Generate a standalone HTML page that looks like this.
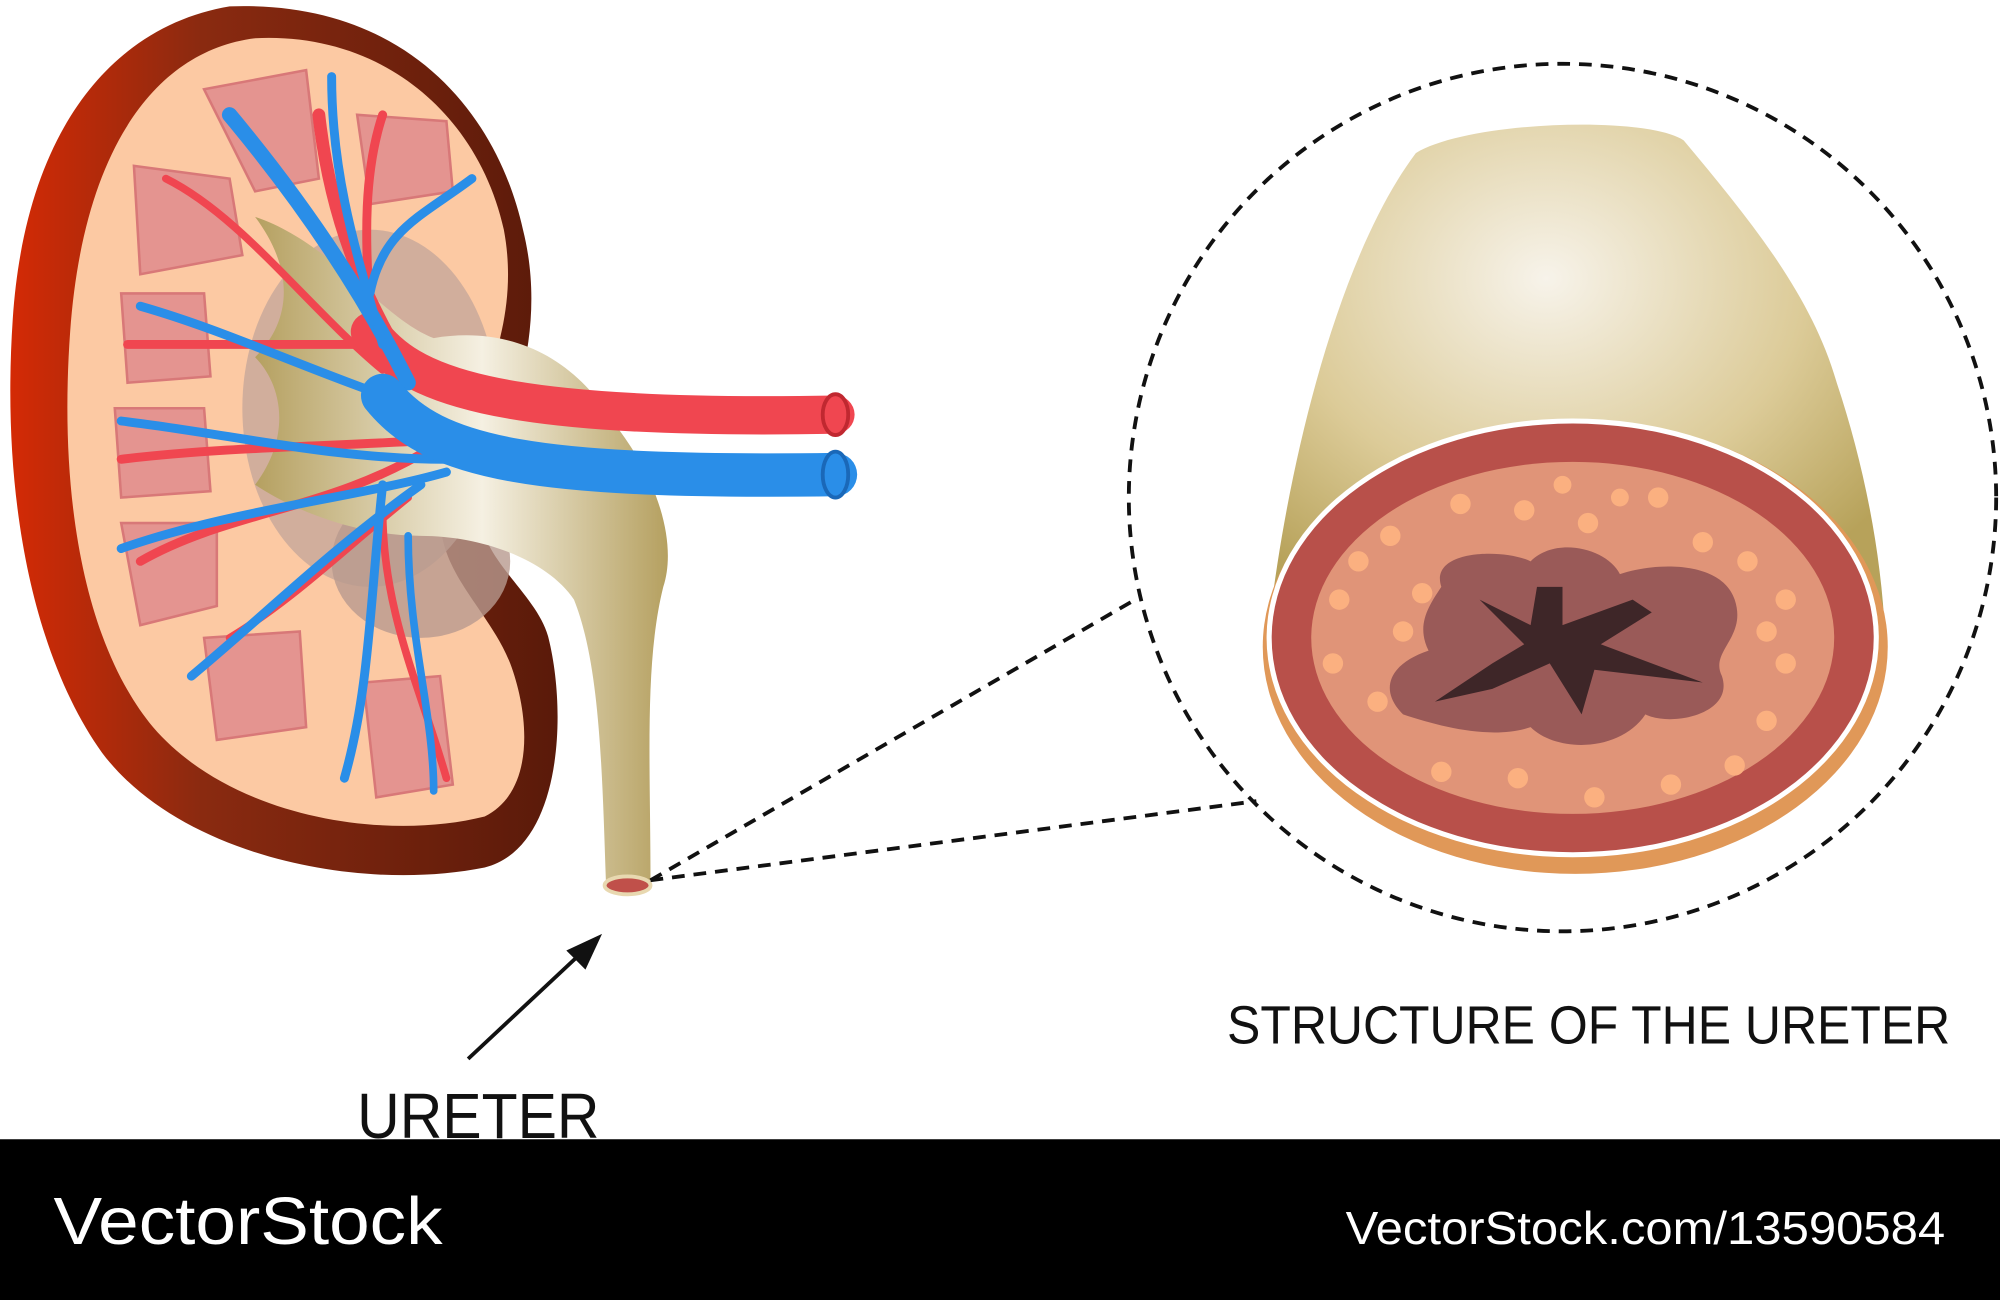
<!DOCTYPE html>
<html><head><meta charset="utf-8"><style>
html,body{margin:0;padding:0;background:#fff;}
svg{display:block;}
text{font-family:"Liberation Sans","DejaVu Sans",sans-serif;}
</style></head><body>
<svg width="2000" height="1300" viewBox="0 0 1568 1019" preserveAspectRatio="none" xmlns="http://www.w3.org/2000/svg">
<defs>
<linearGradient id="kout" x1="0" x2="1" y1="0" y2="0">
<stop offset="0" stop-color="#d42a05"/><stop offset="0.35" stop-color="#8a2a10"/><stop offset="1" stop-color="#5a1a0a"/></linearGradient>
<linearGradient id="tan" x1="0" x2="1"><stop offset="0" stop-color="#b5a060"/><stop offset="0.55" stop-color="#f5f0e2"/><stop offset="1" stop-color="#b5a060"/></linearGradient>
<radialGradient id="tube" cx="0.45" cy="0.3" r="0.7"><stop offset="0" stop-color="#f7f3ea"/><stop offset="0.6" stop-color="#dccb98"/><stop offset="1" stop-color="#b7a25a"/></radialGradient>
</defs>
<rect width="1568" height="1019" fill="#fff"/>
<path d="M180,5 C90,20 20,100 10,250 C0,400 30,520 80,590 C140,670 280,700 380,680 C440,665 445,560 430,500 C420,460 360,430 380,380 C400,330 430,260 410,180 C390,90 320,0 180,5 Z" fill="url(#kout)"/>
<path d="M200,30 C120,40 65,120 55,260 C45,400 70,510 120,570 C180,640 300,660 380,640 C420,620 415,560 400,520 C380,470 330,440 350,380 C370,320 410,260 395,180 C375,90 300,25 200,30 Z" fill="#fcc9a3"/>
<ellipse cx="290" cy="320" rx="100" ry="140" fill="#c6a89a" opacity="0.8"/>
<ellipse cx="330" cy="440" rx="70" ry="60" fill="#b89a8e" opacity="0.8"/>
<g fill="#e49490" stroke="#d87878" stroke-width="2">
<path d="M160,70 L240,55 L250,140 L200,150 Z"/>
<path d="M280,90 L350,95 L355,150 L290,160 Z"/>
<path d="M105,130 L180,140 L190,200 L110,215 Z"/>
<path d="M95,230 L160,230 L165,295 L100,300 Z"/>
<path d="M90,320 L160,320 L165,385 L95,390 Z"/>
<path d="M95,410 L170,410 L170,475 L110,490 Z"/>
<path d="M160,500 L235,495 L240,570 L170,580 Z"/>
<path d="M285,535 L345,530 L355,615 L295,625 Z"/>
</g>
<path d="M200,170 C260,190 300,250 340,265 C400,255 450,280 480,330 C520,380 530,430 520,460 C505,520 510,600 510,690 L475,690 C472,600 470,520 450,470 C430,440 380,420 330,420 C280,420 230,400 200,380 C230,340 220,300 200,280 C230,250 230,210 200,170 Z" fill="url(#tan)"/>
<ellipse cx="492" cy="694" rx="18" ry="7" fill="#c0504a" stroke="#e8d8b0" stroke-width="3"/>
<g fill="none" stroke-linecap="round">
<path d="M250,90 C260,180 290,240 320,290" stroke="#f04650" stroke-width="10"/>
<path d="M300,90 C280,150 290,220 290,260" stroke="#f04650" stroke-width="7"/>
<path d="M130,140 C190,170 240,240 300,290" stroke="#f04650" stroke-width="6"/>
<path d="M100,270 L300,270" stroke="#f04650" stroke-width="7"/>
<path d="M95,360 C180,350 260,350 340,345" stroke="#f04650" stroke-width="7"/>
<path d="M110,440 C180,400 260,400 340,350" stroke="#f04650" stroke-width="7"/>
<path d="M180,500 C230,470 270,430 320,390" stroke="#f04650" stroke-width="6"/>
<path d="M300,400 C300,480 330,540 350,610" stroke="#f04650" stroke-width="6"/>
<path d="M290,260 C320,300 380,330 655,325" stroke="#f04650" stroke-width="30"/>
<path d="M180,90 C230,150 280,220 320,300" stroke="#2a8ee8" stroke-width="12"/>
<path d="M260,60 C260,140 280,200 300,270" stroke="#2a8ee8" stroke-width="7"/>
<path d="M370,140 C330,170 300,180 290,230" stroke="#2a8ee8" stroke-width="7"/>
<path d="M110,240 C180,260 240,290 330,320" stroke="#2a8ee8" stroke-width="7"/>
<path d="M95,330 C180,340 260,360 350,360" stroke="#2a8ee8" stroke-width="7"/>
<path d="M95,430 C180,400 280,390 350,370" stroke="#2a8ee8" stroke-width="7"/>
<path d="M150,530 C210,480 260,430 330,380" stroke="#2a8ee8" stroke-width="7"/>
<path d="M300,380 C290,470 290,540 270,610" stroke="#2a8ee8" stroke-width="7"/>
<path d="M320,420 C320,500 340,560 340,620" stroke="#2a8ee8" stroke-width="6"/>
<path d="M300,310 C340,360 420,375 655,372" stroke="#2a8ee8" stroke-width="34"/>
</g>
<ellipse cx="655" cy="325" rx="10" ry="16" fill="#f04650" stroke="#c02830" stroke-width="3"/>
<ellipse cx="655" cy="372" rx="10" ry="18" fill="#2a8ee8" stroke="#1a68b8" stroke-width="3"/>
<g stroke="#111" stroke-width="3" stroke-dasharray="10,7" fill="none">
<circle cx="1225" cy="390" r="340"/>
<line x1="510" y1="690" x2="890" y2="470"/>
<line x1="510" y1="690" x2="985" y2="628"/>
</g>
<path d="M995,490 C1010,360 1050,200 1110,120 C1150,95 1290,90 1320,110 C1370,170 1420,230 1440,300 C1460,360 1475,430 1478,500 Z" fill="url(#tube)"/>
<ellipse cx="1235" cy="507" rx="245" ry="178" fill="#e09858"/>
<ellipse cx="1233" cy="500" rx="240" ry="172" fill="#fff"/>
<ellipse cx="1233" cy="500" rx="236" ry="168" fill="#b8504a"/>
<ellipse cx="1233" cy="500" rx="205" ry="138" fill="#e09478"/>
<g fill="#fbb080">
<circle cx="1050" cy="470" r="8"/><circle cx="1090" cy="420" r="8"/><circle cx="1145" cy="395" r="8"/><circle cx="1195" cy="400" r="8"/><circle cx="1245" cy="410" r="8"/><circle cx="1300" cy="390" r="8"/><circle cx="1335" cy="425" r="8"/><circle cx="1370" cy="440" r="8"/><circle cx="1400" cy="470" r="8"/><circle cx="1385" cy="495" r="8"/><circle cx="1400" cy="520" r="8"/><circle cx="1385" cy="565" r="8"/><circle cx="1360" cy="600" r="8"/><circle cx="1310" cy="615" r="8"/><circle cx="1250" cy="625" r="8"/><circle cx="1190" cy="610" r="8"/><circle cx="1130" cy="605" r="8"/><circle cx="1080" cy="550" r="8"/><circle cx="1045" cy="520" r="8"/><circle cx="1100" cy="495" r="8"/><circle cx="1115" cy="465" r="8"/><circle cx="1065" cy="440" r="8"/><circle cx="1225" cy="380" r="7"/><circle cx="1270" cy="390" r="7"/>
</g>
<path d="M1130,460 C1120,430 1180,430 1200,440 C1220,420 1260,430 1270,450 C1300,440 1350,440 1360,470 C1370,500 1340,510 1350,530 C1360,560 1310,570 1290,560 C1270,590 1220,590 1200,570 C1170,580 1130,570 1100,560 C1080,540 1090,520 1120,510 C1110,490 1120,475 1130,460 Z" fill="#9a5a58"/>
<path d="M1160,470 L1200,490 L1205,460 L1225,460 L1225,490 L1280,470 L1295,480 L1255,505 L1335,535 L1250,525 L1240,560 L1215,520 L1170,540 L1125,550 L1170,520 L1195,505 Z" fill="#3e2628"/>
<line x1="367" y1="830" x2="460" y2="743" stroke="#111" stroke-width="3"/>
<polygon points="472,732 444,745 459,760" fill="#111"/>
<text x="280" y="892" font-size="50" fill="#111" textLength="190" lengthAdjust="spacingAndGlyphs">URETER</text>
<text x="962" y="818" font-size="42" fill="#111" textLength="567" lengthAdjust="spacingAndGlyphs">STRUCTURE OF THE URETER</text>
<rect x="0" y="893" width="1568" height="126" fill="#000"/>
<text x="42" y="975" font-size="52" fill="#fff" textLength="305" lengthAdjust="spacingAndGlyphs">VectorStock</text>
<text x="1055" y="975" font-size="36" fill="#fff" textLength="470" lengthAdjust="spacingAndGlyphs">VectorStock.com/13590584</text>
</svg>
</body></html>
